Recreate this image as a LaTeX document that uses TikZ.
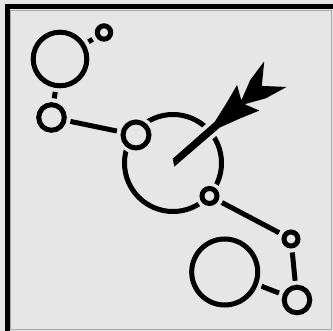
\documentclass[tikz,border=0pt]{standalone}
\definecolor{bg}{HTML}{E6E6E6}
\definecolor{rim}{HTML}{A8A8A8}
\begin{document}
\begin{tikzpicture}[x=1pt,y=-1pt,
  ring/.style={circle,draw=black,line width=5pt,inner sep=0pt,outer sep=2.5pt,
     minimum size=#1,fill=bg,preaction={draw=bg,line width=12pt}},
  link/.style={line width=5pt,shorten <=4pt,shorten >=4pt},
  fletch/.style={fill=black,preaction={draw=bg,line width=8pt,line join=round}}
]
\useasboundingbox (0,0) rectangle (333,331);
\fill[bg] (0,0) rectangle (333,331);
\draw[rim,line width=1.2pt] (10.6,10.6) rectangle (331.4,329.9);
\draw[line width=5pt] (7,331) -- (7,7) -- (333,7);

\node[ring=53.6pt] (a) at (60,59) {};
\node[ring=13.4pt] (b) at (104,32.5) {};
\node[ring=25.6pt] (c) at (51.5,117.5) {};
\node[ring=97pt] (e) at (173,163) {};
\node[ring=26pt] (d) at (136,135) {};
\node[ring=15pt] (f) at (209.5,196) {};
\node[ring=14pt] (g) at (291,239) {};
\node[ring=66pt] (h) at (224.7,272) {};
\node[ring=25.6pt] (i) at (297,300) {};

\draw[link] (a) -- (b);
\draw[link] (a) -- (c);
\draw[link] (c) -- (d);
\draw[link] (f) -- (g);
\draw[link] (g) -- (i);
\draw[link] (h) -- (i);

\begin{scope}[shift={(172,164)},rotate=41]
\path[fletch] (0,3.5) -- (4,-3.5) -- (60,-3.8) -- (82,-10.5) -- (101,-17) -- (94,-2.5)
  -- (114,-12) -- (137,-17) -- (119,0) -- (137,17) -- (114,12) -- (94,2.5)
  -- (101,17) -- (82,10.5) -- (60,3.8) -- cycle;
\end{scope}
\end{tikzpicture}
\end{document}
